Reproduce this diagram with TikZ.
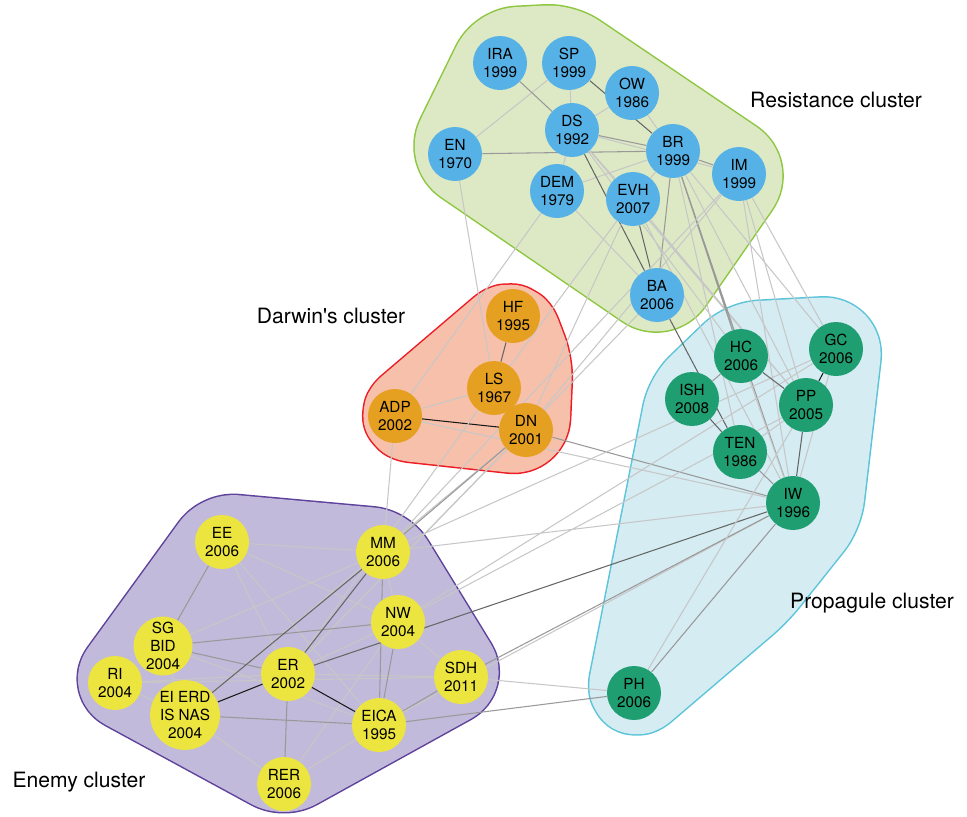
\documentclass[tikz,border=0pt]{standalone}
\usepackage{fontspec}
\setmainfont{TeX Gyre Heros}
\usepackage{tikz}
\usetikzlibrary{positioning}
\usepackage{xcolor}

\definecolor{resfill}{RGB}{221,233,197}
\definecolor{resline}{RGB}{141,198,63}
\definecolor{resnode}{RGB}{86,178,230}
\definecolor{darfill}{RGB}{247,192,170}
\definecolor{darline}{RGB}{237,28,36}
\definecolor{darnode}{RGB}{230,160,33}
\definecolor{profill}{RGB}{212,236,242}
\definecolor{proline}{RGB}{91,196,216}
\definecolor{pronode}{RGB}{31,158,114}
\definecolor{enefill}{RGB}{194,186,218}
\definecolor{eneline}{RGB}{94,66,155}
\definecolor{enenode}{RGB}{236,228,63}

\pgfdeclarelayer{hulls}
\pgfdeclarelayer{links}
\pgfsetlayers{hulls,links,main}

\begin{document}
\begin{tikzpicture}[x=0.2mm, y=-0.2mm,
		every node/.style={font=\fontsize{8.7}{10.4}\selectfont, align=center},
		paper/.style={circle, minimum size=10.8mm, inner sep=0pt},
		res/.style={paper, fill=resnode},
		dar/.style={paper, fill=darnode},
		pro/.style={paper, fill=pronode},
		ene/.style={paper, fill=enenode},
		clustername/.style={font=\fontsize{12}{14}\selectfont},
		hull/.style={line join=round, rounded corners=3mm},
		el/.style={black!22, line width=0.6pt},
		em/.style={black!40, line width=0.6pt},
		ed/.style={black!60, line width=0.6pt},
		eb/.style={black!90, line width=0.6pt}]
				\useasboundingbox (0,0) rectangle (967,816);
				
				% cluster hulls
				\begin{pgfonlayer}{hulls}
				\path[hull, draw=resline, fill=resfill, line width=18.3mm] (454,152) -- (503,52) -- (562,49) -- (744,172) -- (660,293) -- cycle;
				\path[hull, draw=resfill, fill=resfill, line width=17.7mm] (454,152) -- (503,52) -- (562,49) -- (744,172) -- (660,293) -- cycle;
				\path[hull, draw=darline, fill=darfill, line width=17.5mm] (398,418) -- (513,320) -- (530,365) -- (527,432) -- cycle;
				\path[hull, draw=darfill, fill=darfill, line width=16.9mm] (398,418) -- (513,320) -- (530,365) -- (527,432) -- cycle;
				\path[hull, draw=proline, fill=profill, line width=18.3mm] (745,346) -- (838,341) -- (818,512) -- (755,591) -- (631,697) -- (690,399) -- cycle;
				\path[hull, draw=profill, fill=profill, line width=17.7mm] (745,346) -- (838,341) -- (818,512) -- (755,591) -- (631,697) -- (690,399) -- cycle;
				\path[hull, draw=eneline, fill=enefill, line width=16.3mm] (220,533) -- (386,548) -- (465,677) -- (284,777) -- (111,683) -- cycle;
				\path[hull, draw=enefill, fill=enefill, line width=15.7mm] (220,533) -- (386,548) -- (465,677) -- (284,777) -- (111,683) -- cycle;
				\end{pgfonlayer}
				
				% resistance cluster
				\node[res] (IRA) at (500,63) {IRA\\1999};
				\node[res] (SP) at (569,63) {SP\\1999};
				\node[res] (OW) at (632,93) {OW\\1986};
				\node[res] (DS) at (572,130) {DS\\1992};
				\node[res] (EN) at (455,154) {EN\\1970};
				\node[res] (BR) at (673,151) {BR\\1999};
				\node[res] (IM) at (739,174) {IM\\1999};
				\node[res] (DEM) at (557,191) {DEM\\1979};
				\node[res] (EVH) at (633,199) {EVH\\2007};
				\node[res] (BA) at (657,295) {BA\\2006};
				
				% darwin's cluster
				\node[dar] (HF) at (513,316) {HF\\1995};
				\node[dar] (LS) at (494,388) {LS\\1967};
				\node[dar] (ADP) at (395,416) {ADP\\2002};
				\node[dar] (DN) at (526,430) {DN\\2001};
				
				% propagule cluster
				\node[pro] (HC) at (741,356) {HC\\2006};
				\node[pro] (GC) at (836,349) {GC\\2006};
				\node[pro] (ISH) at (692,399) {ISH\\2008};
				\node[pro] (PP) at (806,405) {PP\\2005};
				\node[pro] (TEN) at (740,452) {TEN\\1986};
				\node[pro] (IW) at (793,503) {IW\\1996};
				\node[pro] (PH) at (634,693) {PH\\2006};
				
				% enemy cluster
				\node[ene] (EE) at (222,542) {EE\\2006};
				\node[ene] (MM) at (383,552) {MM\\2006};
				\node[ene] (NW) at (398,622) {NW\\2004};
				\node[ene] (SG) at (163,646) {SG\\BID\\2004};
				\node[ene] (RI) at (115,683) {RI\\2004};
				\node[ene] (ER) at (288,674) {ER\\2002};
				\node[ene] (SDH) at (461,677) {SDH\\2011};
				\node[ene] (EI) at (185,715) {EI ERD\\IS NAS\\2004};
				\node[ene] (EICA) at (379,725) {EICA\\1995};
				\node[ene] (RER) at (284,784) {RER\\2006};
				
				\node[clustername] (resname) at (836,100) {Resistance cluster};
				\node[clustername] (darname) at (331,316) {Darwin\textquotesingle s cluster};
				\node[clustername] (proname) at (872,603) {Propagule cluster};
				\node[clustername] (enename) at (79,782) {Enemy cluster};
				
				\begin{pgfonlayer}{links}
				\draw[el] (SP) -- (EN)  (SP) -- (DS)  (OW) -- (DS)  (OW) -- (BR)  (DS) -- (IM)  (DS) -- (DEM)  (DS) -- (EVH)  (DEM) -- (BR)  (EVH) -- (BR)  (DEM) -- (BA);
				\draw[em] (IRA) -- (DS)  (DS) -- (BR)  (EN) -- (BR)  (BR) -- (IM)  (BR) -- (BA);
				\draw[ed] (SP) -- (BR)  (DS) -- (BA)  (EVH) -- (BA);
				
				\draw[el] (BR) -- (GC)  (IM) -- (GC)  (IM) -- (IW)  (IM) -- (PP)  (DS) -- (PP)  (DS) -- (HC)  (EVH) -- (PP)  (BR) -- (PP)  (EVH) -- (IW)  (BR) -- (TEN);
				\draw[em] (BR) -- (HC)  (BR) -- (IW);
				\draw[ed] (BA) -- (TEN);
				
				\draw[el] (EN) -- (LS)  (DEM) -- (ADP)  (EVH) -- (DN)  (IM) -- (DN)  (LS) -- (EVH)  (IM) -- (MM)  (BA) -- (ER);
				
				\draw[ed] (HF) -- (LS);
				\draw[eb] (ADP) -- (DN);
				\draw[el] (ADP) -- (LS)  (ADP) -- (IW)  (ADP) -- (MM)  (DN) -- (ER)  (LS) -- (ER)  (DN) -- (EI);
				\draw[em] (DN) -- (IW)  (DN) -- (MM);
				
				\draw[el] (EE) -- (MM)  (EE) -- (NW)  (EE) -- (ER)  (EE) -- (EICA)  (SG) -- (MM)  (SG) -- (EICA)  (RI) -- (ER)  (RI) -- (SDH)  (RI) -- (EI)  (EI) -- (RER)  (SG) -- (EI)  (ER) -- (NW)  (ER) -- (SDH)  (MM) -- (NW)  (NW) -- (SDH)  (EICA) -- (RER)  (RER) -- (NW);
				\draw[em] (EE) -- (SG)  (SG) -- (NW)  (SG) -- (ER)  (EI) -- (EICA)  (ER) -- (RER)  (MM) -- (EICA)  (NW) -- (EICA)  (SDH) -- (EICA);
				\draw[ed] (EI) -- (MM)  (ER) -- (MM);
				\draw[eb] (EI) -- (ER)  (ER) -- (EICA);
				
				\draw[el] (MM) -- (IW)  (MM) -- (GC)  (NW) -- (PP)  (NW) -- (GC)  (EICA) -- (IW)  (SDH) -- (PH);
				\draw[em] (SDH) -- (IW)  (EICA) -- (PH);
				\draw[ed] (ER) -- (IW);
				
				\draw[el] (TEN) -- (PP)  (HC) -- (IW)  (GC) -- (IW)  (PH) -- (PP);
				\draw[em] (HC) -- (ISH)  (TEN) -- (IW)  (PH) -- (IW);
				\draw[ed] (HC) -- (PP)  (ISH) -- (TEN)  (PP) -- (IW);
				\draw[eb] (GC) -- (PP);
				\end{pgfonlayer}
			\end{tikzpicture}
\end{document}
